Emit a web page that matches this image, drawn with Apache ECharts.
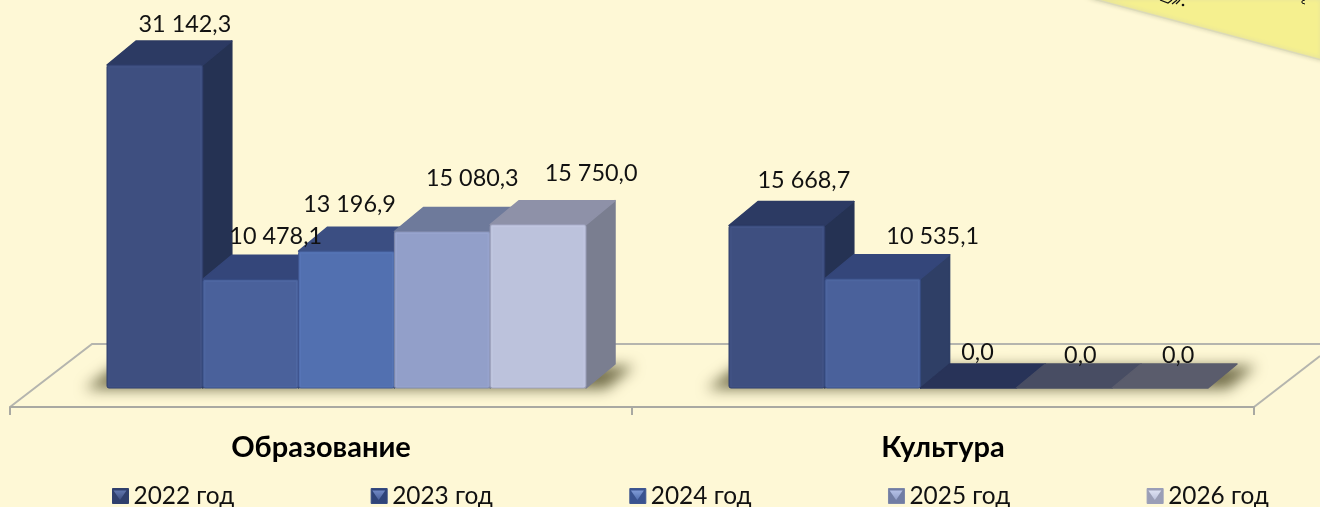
<!DOCTYPE html>
<html>
<head>
<meta charset="utf-8">
<style>html,body{margin:0;padding:0;background:#fef8d6}#c{width:1320px;height:507px}</style>
<script src="https://cdn.jsdelivr.net/npm/echarts@6/dist/echarts.min.js"></script>
</head>
<body>
<div id="c"></div>
<script>
const categories = ['Образование', 'Культура'];
const seriesNames = ['2022 год', '2023 год', '2024 год', '2025 год', '2026 год'];
const y2022 = [31142.3, 15668.7];
const y2023 = [10478.1, 10535.1];
const y2024 = [13196.9, 0];
const y2025 = [15080.3, 0];
const y2026 = [15750.0, 0];
const seriesValues = [y2022, y2023, y2024, y2025, y2026];

// appearance
const FONT = 'Lato, Carlito, "Noto Sans", sans-serif';
const DEPTH_X = 29, DEPTH_Y = 24, SHIFT_X = 25.5, BAR_SHARE = 95.8 / 622;
const faces = [
  {front: '#3e4f80', top: '#2c3a63', side: '#253253', rim: '#4a5c90', edge: '#2f3f6c', zero: '#2c3a63', legend: ['#5f75ad', '#2f3f6c']},
  {front: '#4a619b', top: '#34467a', side: '#2f3f66', rim: '#5670ae', edge: '#354a80', zero: '#34467a', legend: ['#7088c4', '#2f4479']},
  {front: '#5270b0', top: '#3b4e82', side: '#34466f', rim: '#5e7dc0', edge: '#3f5690', zero: '#283358', legend: ['#7f9ad6', '#3a5390']},
  {front: '#929fc9', top: '#6e7a9b', side: '#636d8a', rim: '#a2aed6', edge: '#7d87a8', zero: '#484d63', legend: ['#b4c0e6', '#717da4']},
  {front: '#bcc2dc', top: '#8e91a8', side: '#7a7e90', rim: '#c8cee8', edge: '#9a9eb8', zero: '#5a5c6c', legend: ['#dde1f2', '#9a9eb6']}
];
// hand placement of value labels, relative to the top of the bar's back edge
const labelNudge = [
  [[30, -17], [27, -21]],
  [[25, -19], [60, -18]],
  [[3, -23], [9, -12]],
  [[30, -29], [16, -9]],
  [[53, -27], [18, -9]]
];
const LEGEND_X = 112, LEGEND_STEP = 258.7, LEGEND_Y = 489, MARK_W = 16, MARK_H = 15;

function fmt(v) {
  const p = v.toFixed(1).split('.');
  return p[0].replace(/\B(?=(\d{3})+$)/g, ' ') + ',' + p[1];
}

function makeRender(si) {
  return function (params, api) {
    const c = api.value(0), v = api.value(1);
    const base = api.coord([c, 0]);
    const top = api.coord([c, v]);
    const w = api.size([1, 0])[0] * BAR_SHARE;
    const x0 = base[0] + SHIFT_X + (si - 2.5) * w;
    const x1 = x0 + w, yb = base[1], yt = top[1];
    const f = faces[si];
    const kids = [];
    const poly = (pts, fill, stroke) => ({
      type: 'polygon', shape: {points: pts},
      style: {fill: fill, stroke: stroke || fill, lineWidth: 1.5, lineJoin: 'round'}
    });
    if (v > 0) {
      kids.push(poly([[x1, yt], [x1 + DEPTH_X, yt - DEPTH_Y], [x1 + DEPTH_X, yb - DEPTH_Y], [x1, yb]], f.side));
      kids.push(poly([[x0, yt], [x0 + DEPTH_X, yt - DEPTH_Y], [x1 + DEPTH_X, yt - DEPTH_Y], [x1, yt]], f.top));
      kids.push({type: 'rect', shape: {x: x0, y: yt, width: w, height: yb - yt, r: 2},
        style: {fill: f.front, stroke: f.edge, lineWidth: 1}});
      kids.push({type: 'rect', shape: {x: x0 + 2, y: yt + 2, width: w - 4, height: yb - yt - 3},
        style: {fill: 'none', stroke: f.rim, lineWidth: 1, opacity: 0.45}});
    } else {
      kids.push(poly([[x0, yb], [x0 + DEPTH_X, yb - DEPTH_Y], [x1 + DEPTH_X, yb - DEPTH_Y], [x1, yb]], f.zero));
    }
    const n = labelNudge[si][c];
    kids.push({
      type: 'text', z2: 100,
      style: {
        text: fmt(v), x: (x0 + x1) / 2 + n[0], y: yt - DEPTH_Y + n[1],
        align: 'center', verticalAlign: 'middle',
        font: '23.4px ' + FONT, fill: '#111'
      }
    });
    return {type: 'group', children: kids};
  };
}

// soft floor shadow: the shape itself sits off-canvas, only its blurred shadow lands on the floor
const OFF = 3000;
function floorShadow(pts) {
  return {type: 'polygon', silent: true, z: 0, shape: {points: pts.map(p => [p[0] - OFF, p[1]])},
    style: {fill: '#000', shadowBlur: 14, shadowOffsetX: OFF, shadowColor: 'rgba(110,105,70,0.95)'}};
}
// bevelled highlight of each legend marker
const legendBevels = seriesNames.map((n, i) => {
  const x = LEGEND_X + i * LEGEND_STEP;
  return {type: 'polygon', silent: true, z: 10,
    shape: {points: [[x + 1.5, LEGEND_Y + 1.5], [x + MARK_W - 1.5, LEGEND_Y + 1.5], [x + MARK_W / 2, LEGEND_Y + MARK_H - 4]]},
    style: {fill: new echarts.graphic.LinearGradient(0, 0, 0, 1, [
      {offset: 0, color: faces[i].legend[0]}, {offset: 1, color: faces[i].front}
    ])}};
});

const chart = echarts.init(document.getElementById('c'), null, {renderer: 'canvas'});
chart.setOption({
  animation: false,
  backgroundColor: '#fef8d6',
  grid: {left: 10, width: 1244, top: 25, height: 363},
  xAxis: {
    type: 'category', data: categories, offset: 19,
    axisLine: {onZero: false, lineStyle: {color: '#a9a9a2', width: 2}},
    axisTick: {show: true, length: 8, lineStyle: {color: '#a9a9a2', width: 2}},
    axisLabel: {margin: 26, color: '#000', fontFamily: FONT, fontWeight: 'bold', fontSize: 29}
  },
  yAxis: {type: 'value', min: 0, max: 35000, interval: 5000, show: false},
  legend: {
    left: LEGEND_X, top: 484, padding: 0, icon: 'rect', itemWidth: MARK_W, itemHeight: MARK_H, itemGap: 136.4,
    data: seriesNames.map((n, i) => ({
      name: n,
      itemStyle: {
        color: faces[i].legend[1],
        borderColor: faces[i].edge, borderWidth: 1
      }
    })),
    textStyle: {color: '#111', fontFamily: FONT, fontSize: 24.4, width: 103}
  },
  graphic: [
    // corner of the yellow sheet behind the chart
    {type: 'polygon', silent: true, z: 0, shape: {points: [[1090, -2], [1322, 60], [1322, -2]]},
      style: {fill: '#f5f08f', stroke: '#dcdab8', lineWidth: 1.5, shadowBlur: 4, shadowColor: '#d4d2b0'}},
    {type: 'polyline', silent: true, z: 1, shape: {points: [[1160, 0], [1168, 3], [1172, 0]]},
      style: {fill: 'none', stroke: '#111', lineWidth: 1.2}},
    {type: 'polyline', silent: true, z: 1, shape: {points: [[1172, 4], [1177, 0]]},
      style: {fill: 'none', stroke: '#111', lineWidth: 1.2}},
    {type: 'polyline', silent: true, z: 1, shape: {points: [[1176, 4], [1180, 0]]},
      style: {fill: 'none', stroke: '#111', lineWidth: 1.2}},
    {type: 'circle', silent: true, z: 1, shape: {cx: 1183, cy: 5, r: 1.3}, style: {fill: '#111'}},
    {type: 'polyline', silent: true, z: 1, shape: {points: [[1305, 0], [1302, 1], [1302, 3], [1305, 4]]},
      style: {fill: 'none', stroke: '#111', lineWidth: 1}},
    // floor of the 3D plot
    {type: 'polyline', silent: true, z: 0,
      shape: {points: [[10, 407], [92, 344], [1320, 344]]},
      style: {fill: 'none', stroke: '#b5b5ae', lineWidth: 2}},
    {type: 'polyline', silent: true, z: 0,
      shape: {points: [[1254, 407], [1320, 356]]},
      style: {fill: 'none', stroke: '#b5b5ae', lineWidth: 2}},
    // soft shadows on the floor
    floorShadow([[85, 389], [113, 368], [634, 366], [606, 389]]),
    floorShadow([[707, 389], [735, 368], [1256, 366], [1228, 389]])
  ].concat(legendBevels),
  series: seriesNames.map((n, si) => ({
    type: 'custom', name: n, clip: false,
    renderItem: makeRender(si),
    encode: {x: 0, y: 1},
    data: seriesValues[si].map((v, c) => [c, v])
  }))
});
</script>
</body>
</html>
